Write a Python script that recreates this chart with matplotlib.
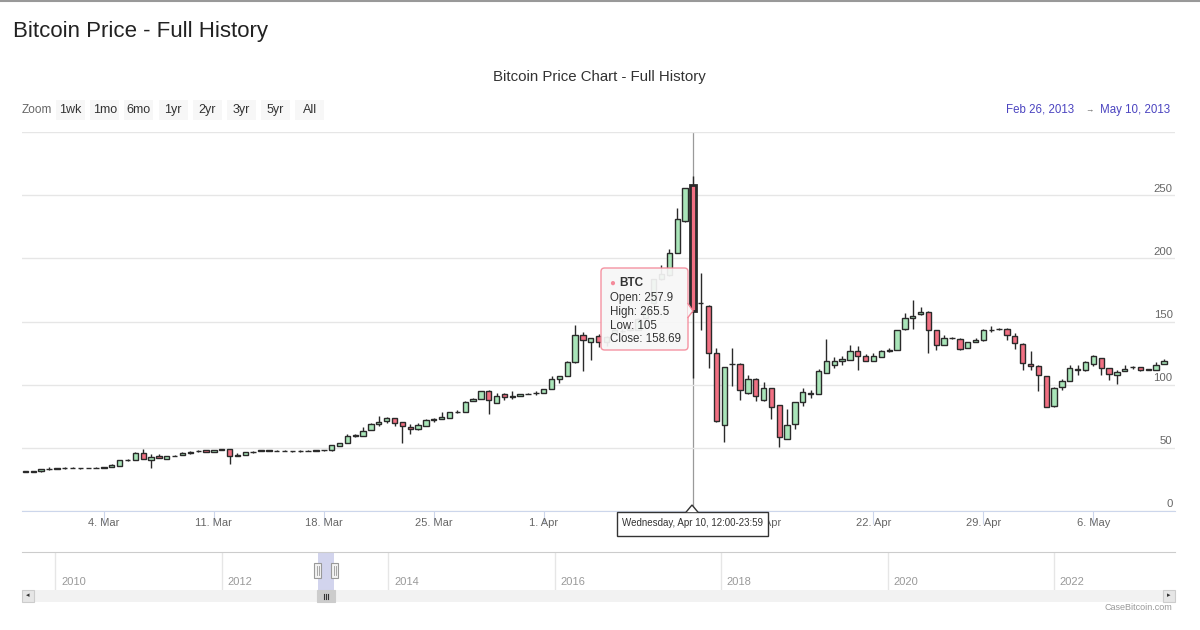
import matplotlib
matplotlib.use('Agg')
import matplotlib.pyplot as plt
import matplotlib.dates as mdates
from matplotlib.patches import Rectangle, FancyBboxPatch, Polygon
from matplotlib.lines import Line2D
from matplotlib.ticker import FuncFormatter
from matplotlib.transforms import Bbox, TransformedBbox
import numpy as np
import pandas as pd
from datetime import datetime

plt.rcParams['font.family'] = ['Liberation Sans', 'DejaVu Sans']

# BTC 12h candles, Feb 27 2013 00:00 -> May 10 2013 12:00
opens = [31.0, 31.3, 31.5, 33.0, 33.6, 34.0, 34.2, 33.9, 34.1, 34.0,
         34.3, 35.1, 36.0, 40.0, 40.2, 45.8, 40.2, 43.3, 41.0, 43.6,
         44.2, 46.2, 47.3, 48.0, 47.0, 48.3, 48.7, 43.7, 44.4, 46.6,
         47.4, 47.9, 47.8, 47.5, 47.3, 47.1, 47.6, 47.6, 47.9, 48.0,
         51.6, 53.7, 59.5, 59.5, 64.3, 69.0, 71.2, 73.6, 70.4, 66.4,
         64.8, 67.5, 72.2, 73.0, 73.6, 78.3, 78.4, 87.0, 88.7, 95.0,
         85.7, 92.6, 90.5, 91.0, 92.6, 93.2, 93.4, 96.8, 104.8, 107.1,
         117.6, 139.1, 133.7, 138.3, 134.0, 141.0, 142.3, 143.2, 143.6, 152.9,
         164.8, 183.3, 186.7, 204.5, 229.6, 257.9, 164.5, 162.1, 125.1, 67.7,
         116.2, 116.7, 93.4, 104.5, 87.5, 97.1, 83.6, 57.1, 69.0, 86.0,
         92.7, 92.9, 109.3, 115.9, 119.0, 119.8, 127.0, 122.5, 119.0, 122.0,
         127.0, 127.8, 143.7, 152.4, 155.8, 157.7, 143.1, 131.7, 136.8, 136.5,
         129.1, 133.9, 135.2, 143.3, 144.1, 144.4, 138.9, 132.3, 116.7, 115.1,
         106.6, 82.8, 98.2, 103.2, 111.7, 111.3, 116.7, 120.9, 113.2, 108.0,
         111.1, 113.8, 114.0, 112.2, 112.0, 116.4]
highs = [31.6, 31.6, 33.4, 34.8, 34.3, 34.9, 34.5, 34.4, 34.4, 34.5,
         35.2, 37.0, 40.3, 40.8, 46.5, 49.0, 45.0, 45.0, 43.8, 44.3,
         47.0, 47.2, 47.9, 48.4, 48.3, 48.9, 49.2, 46.0, 46.8, 47.3,
         48.1, 48.2, 48.1, 47.9, 47.6, 47.9, 47.9, 48.2, 48.3, 52.3,
         54.0, 61.0, 61.0, 66.4, 69.3, 75.4, 74.7, 74.0, 70.8, 69.0,
         69.6, 72.5, 74.0, 78.0, 78.3, 80.2, 86.8, 89.3, 95.3, 95.4,
         93.4, 93.4, 94.7, 92.9, 93.2, 94.8, 96.9, 106.6, 106.9, 118.6,
         147.6, 142.0, 137.2, 140.5, 138.5, 143.8, 144.0, 146.0, 152.5, 158.6,
         184.0, 194.4, 207.0, 240.2, 256.0, 265.5, 188.6, 163.0, 129.3, 114.3,
         129.1, 117.2, 107.9, 105.0, 102.4, 97.5, 84.0, 81.0, 86.3, 97.4,
         95.5, 112.7, 136.3, 121.7, 122.5, 131.5, 130.4, 124.5, 125.0, 127.3,
         128.8, 143.4, 156.9, 166.9, 161.7, 158.0, 143.4, 139.0, 138.0, 136.8,
         133.9, 137.0, 144.4, 146.3, 145.0, 144.7, 141.0, 132.6, 126.4, 115.4,
         106.9, 98.2, 104.8, 115.9, 115.9, 119.0, 123.8, 121.2, 113.5, 112.0,
         115.9, 115.0, 114.3, 112.5, 118.0, 120.6]
lows = [30.8, 30.9, 31.2, 32.8, 33.3, 33.6, 33.7, 33.6, 33.8, 33.7,
        34.0, 34.9, 35.8, 39.6, 40.0, 41.0, 34.4, 41.8, 40.8, 43.2,
        44.0, 45.5, 47.0, 46.4, 46.8, 48.0, 37.0, 43.4, 44.2, 46.3,
        47.2, 47.5, 47.3, 47.1, 46.8, 46.9, 47.2, 47.4, 47.6, 47.8,
        51.3, 53.5, 58.8, 59.2, 64.0, 67.5, 69.5, 66.9, 54.2, 61.1,
        64.5, 67.2, 70.6, 72.7, 73.3, 77.9, 78.1, 86.7, 88.4, 77.0,
        85.4, 87.5, 88.6, 90.7, 92.3, 91.5, 93.1, 96.5, 101.0, 106.8,
        117.3, 110.6, 119.3, 130.0, 131.0, 139.5, 141.0, 142.5, 143.0, 152.0,
        162.0, 182.5, 186.0, 204.0, 229.0, 105.0, 143.1, 113.2, 70.5, 55.0,
        99.2, 87.5, 93.0, 86.7, 87.0, 72.8, 50.5, 56.7, 64.8, 82.8,
        89.5, 92.6, 109.0, 113.0, 115.5, 119.5, 111.3, 118.7, 118.7, 121.7,
        125.8, 127.5, 143.4, 144.2, 154.8, 125.1, 127.8, 131.4, 135.8, 127.2,
        128.8, 133.6, 134.9, 141.6, 143.6, 135.2, 128.6, 111.3, 111.3, 94.7,
        82.0, 82.5, 95.5, 102.9, 108.0, 111.0, 114.5, 107.4, 104.0, 100.6,
        110.8, 112.4, 110.5, 111.7, 111.7, 116.1]
closes = [31.3, 31.0, 33.0, 33.6, 34.0, 34.2, 33.9, 34.1, 34.0, 34.3,
          34.9, 36.8, 40.0, 40.5, 46.3, 41.5, 43.1, 42.0, 43.4, 43.9,
          46.0, 46.8, 47.6, 47.0, 48.0, 48.7, 43.7, 44.0, 46.5, 47.0,
          47.9, 47.8, 47.5, 47.4, 47.1, 47.6, 47.5, 47.9, 48.0, 52.0,
          53.7, 59.5, 59.8, 63.2, 69.0, 70.6, 73.6, 69.6, 66.9, 64.8,
          68.0, 72.2, 72.6, 74.8, 78.0, 78.6, 86.5, 89.0, 95.0, 87.5,
          91.3, 90.2, 90.8, 92.6, 92.9, 93.5, 96.6, 104.5, 106.6, 118.3,
          139.1, 135.5, 136.9, 133.6, 137.5, 143.0, 142.7, 145.0, 152.0, 158.1,
          183.3, 187.3, 204.5, 231.5, 255.3, 158.69, 164.8, 125.1, 71.2, 113.9,
          116.6, 96.0, 104.5, 90.7, 97.0, 82.3, 58.2, 67.7, 86.0, 93.9,
          93.1, 111.1, 118.5, 118.5, 120.6, 127.0, 123.0, 119.0, 122.5, 127.0,
          127.3, 143.1, 152.4, 154.2, 157.6, 142.9, 131.7, 137.0, 137.1, 128.6,
          133.6, 135.7, 142.9, 143.6, 144.4, 139.1, 133.1, 117.2, 114.5, 107.4,
          82.3, 97.4, 102.6, 112.9, 112.1, 117.7, 122.5, 113.2, 108.5, 110.1,
          112.7, 114.1, 112.0, 112.0, 115.9, 118.8]

first_candle = '2013-02-27 00:00'
hover_idx = 85
range_start = datetime(2013, 2, 26)
range_end = datetime(2013, 5, 10)
y_labels = [0, 50, 100, 150, 200, 250]
zoom_buttons = ['1wk', '1mo', '6mo', '1yr', '2yr', '3yr', '5yr', 'All']
nav_years = [2010, 2012, 2014, 2016, 2018, 2020, 2022]

UP = '#a9e5b9'
DOWN = '#f17083'
EDGE = '#2a2a2a'

W, H = 1200, 630


def fx(px):
    return px / W


def fy(py):
    return 1 - py / H


fig = plt.figure(figsize=(W / 100, H / 100), dpi=100)
fig.patch.set_facecolor('white')

# page header
fig.add_artist(Line2D([0, 1], [fy(0.8), fy(0.8)], color='#999999', lw=1.5))
fig.text(fx(13), fy(32), 'Bitcoin Price - Full History', fontsize=16,
         color='#222222', ha='left', va='center')
fig.text(fx(599), fy(76.5), 'Bitcoin Price Chart - Full History', fontsize=10.8,
         color='#333333', ha='center', va='center')

# range selector
fig.text(fx(22), fy(110), 'Zoom', fontsize=8.5, color='#666666', ha='left', va='center')
for k, lab in enumerate(zoom_buttons):
    left = 56 + k * 34.2
    fig.add_artist(Rectangle((fx(left), fy(120)), fx(29), 20 / H,
                             transform=fig.transFigure, facecolor='#f7f7f7',
                             edgecolor='none'))
    fig.text(fx(left + 14.5), fy(110), lab, fontsize=9, color='#333333',
             ha='center', va='center')

fig.text(fx(1074), fy(110), f"{range_start:%b} {range_start.day}, {range_start.year}",
         fontsize=8.3, color='#4b44c0', ha='right', va='center')
fig.text(fx(1089), fy(111), '\u2192', fontsize=6, color='#666666', ha='center', va='center')
fig.text(fx(1170), fy(110), f"{range_end:%b} {range_end.day}, {range_end.year}",
         fontsize=8.3, color='#4b44c0', ha='right', va='center')

# main candlestick axes
dates = pd.date_range(first_candle, periods=len(opens), freq='12h')
x = mdates.date2num(dates.to_pydatetime())
o = np.array(opens)
c = np.array(closes)
hi = np.array(highs)
lo = np.array(lows)

ax = fig.add_axes([fx(22), fy(511), (1175 - 22) / W, (511 - 132) / H])
ax.set_facecolor('white')
ax.set_xlim(x[0] - 0.22, x[0] + 73.2)
ax.set_ylim(0, 300)

ax.vlines(x, lo, hi, color=EDGE, lw=1, zorder=2)
fills = [UP if cc >= oo else DOWN for oo, cc in zip(o, c)]
lws = [2 if k == hover_idx else 1 for k in range(len(o))]
ax.bar(x, np.maximum(np.abs(c - o), 0.3), bottom=np.minimum(o, c), width=0.34,
       color=fills, edgecolor=EDGE, linewidth=lws, zorder=3)

ax.set_yticks(range(0, 301, 50))
ax.grid(axis='y', color='#e6e6e6', lw=1, zorder=0)
ax.tick_params(axis='y', length=0, labelleft=False)
for v in y_labels:
    ax.text(0.998, v + 1.2, str(v), transform=ax.get_yaxis_transform(),
            ha='right', va='bottom', fontsize=8.2, color='#666666')

ax.xaxis.set_major_locator(mdates.WeekdayLocator(byweekday=mdates.MO))
ax.xaxis.set_major_formatter(FuncFormatter(
    lambda v, pos: f"{mdates.num2date(v).day}. {mdates.num2date(v):%b}"))
ax.tick_params(axis='x', length=9, color='#ccd6eb', labelcolor='#666666',
               labelsize=8, pad=-4)
for s in ['top', 'left', 'right']:
    ax.spines[s].set_visible(False)
ax.spines['bottom'].set_color('#ccd6eb')

# crosshair
ax.axvline(x[hover_idx], color='#9a9a9a', lw=0.9, zorder=1)

# tooltip
fig.add_artist(FancyBboxPatch((fx(601), fy(350)), fx(87), 82 / H,
                              boxstyle='round,pad=0,rounding_size=0.003',
                              mutation_aspect=W / H,
                              transform=fig.transFigure, facecolor='#f7f7f7',
                              edgecolor='#f48a9a', lw=1, alpha=0.92, zorder=5))
fig.add_artist(Polygon([(fx(687.5), fy(303)), (fx(693), fy(311)), (fx(687.5), fy(318))],
                       closed=False, transform=fig.transFigure, facecolor='#f7f7f7',
                       edgecolor='#f48a9a', lw=1, zorder=6))
fig.text(fx(609.5), fy(283), '\u25cf', fontsize=7, color='#f48a9a', ha='left', va='center', zorder=7)
fig.text(fx(619), fy(283), 'BTC', fontsize=8.5, color='#333333', weight='bold',
         ha='left', va='center', zorder=7)
tip_lines = [f"Open: {opens[hover_idx]}", f"High: {highs[hover_idx]}",
             f"Low: {lows[hover_idx]:g}", f"Close: {closes[hover_idx]}"]
for k, t in enumerate(tip_lines):
    fig.text(fx(610), fy(297.5 + k * 14), t, fontsize=8.3, color='#333333',
             ha='left', va='center', zorder=7)

# crosshair label
hd = dates[hover_idx]
hd_end = hd + pd.Timedelta(hours=11, minutes=59)
cross_txt = f"{hd:%A}, {hd:%b} {hd.day}, {hd:%H:%M}-{hd_end:%H:%M}"
box_l, box_r = 617, 768
fig.add_artist(Rectangle((fx(box_l), fy(536)), fx(box_r - box_l), 24 / H,
                         transform=fig.transFigure,
                         facecolor='white', edgecolor='#333333', lw=1, zorder=5))
fig.add_artist(Polygon([(fx(686), fy(512.2)), (fx(692), fy(505)), (fx(698), fy(512.2))],
                       closed=False, transform=fig.transFigure, facecolor='white',
                       edgecolor='#333333', lw=1, zorder=6))
fig.text(fx(692), fy(523.5), cross_txt, fontsize=7, color='#333333',
         ha='center', va='center', zorder=7)

# tick labels under the crosshair label: hidden part clipped away
fig.canvas.draw()
visible = TransformedBbox(Bbox([[0, 0], [fx(box_l), 1]]), fig.transFigure)
visible_r = TransformedBbox(Bbox([[fx(box_r), 0], [1, 1]]), fig.transFigure)
for tick in ax.xaxis.get_major_ticks():
    bb = tick.label1.get_window_extent()
    if bb.x1 > box_l and bb.x0 < box_r:
        if bb.x1 <= box_r:
            tick.label1.set_visible(False)
        else:
            tick.label1.set_clip_box(visible_r)
            tick.label1.set_clip_on(True)

# navigator
nav = fig.add_axes([fx(22), fy(590), (1175 - 22) / W, (590 - 552) / H])
nav_left = datetime(2009, 8, 8)
nav_right = datetime(2023, 6, 15)
nav.set_xlim(mdates.date2num(nav_left), mdates.date2num(nav_right))
nav.set_ylim(0, 1)
for yr in nav_years:
    xv = mdates.date2num(datetime(yr, 1, 1))
    nav.axvline(xv, color='#e6e6e6', lw=1)
    nav.text(xv + 25, 0.22, str(yr), fontsize=8, color='#999999', ha='left', va='center')
nav.axvspan(mdates.date2num(range_start), mdates.date2num(range_end),
            color='#cdd0ec', alpha=0.9, lw=0)
nav.set_xticks([])
nav.set_yticks([])
for s in ['left', 'right', 'bottom']:
    nav.spines[s].set_visible(False)
nav.spines['top'].set_color('#cccccc')

# navigator handles
for hx in [317.5, 334.5]:
    fig.add_artist(Rectangle((fx(hx - 3.5), fy(578)), fx(7), 15 / H, transform=fig.transFigure,
                             facecolor='#f2f2f2', edgecolor='#999999', lw=0.8, zorder=5))
    for dx in (-1, 1):
        fig.add_artist(Line2D([fx(hx + dx), fx(hx + dx)], [fy(566), fy(575)],
                              color='#999999', lw=0.6, zorder=6))

# scrollbar
fig.add_artist(Rectangle((fx(22), fy(602)), fx(1153), 12 / H, transform=fig.transFigure,
                         facecolor='#f2f2f2', edgecolor='none'))
for bx, arrow in [(22, '\u25c2'), (1163, '\u25b8')]:
    fig.add_artist(Rectangle((fx(bx), fy(602)), fx(12), 12 / H, transform=fig.transFigure,
                             facecolor='#e6e6e6', edgecolor='#cccccc', lw=0.8))
    fig.text(fx(bx + 6), fy(596), arrow, fontsize=5, color='#333333', ha='center', va='center')
fig.add_artist(Rectangle((fx(317), fy(602)), fx(18), 12 / H, transform=fig.transFigure,
                         facecolor='#cccccc', edgecolor='#cccccc', lw=0.8))
for dx in (-2, 0, 2):
    fig.add_artist(Line2D([fx(326 + dx), fx(326 + dx)], [fy(594), fy(599)],
                          color='#333333', lw=0.8))

fig.text(fx(1172), fy(608), 'CaseBitcoin.com', fontsize=6.5, color='#999999',
         ha='right', va='center')

fig.savefig('out.png', dpi=100)
